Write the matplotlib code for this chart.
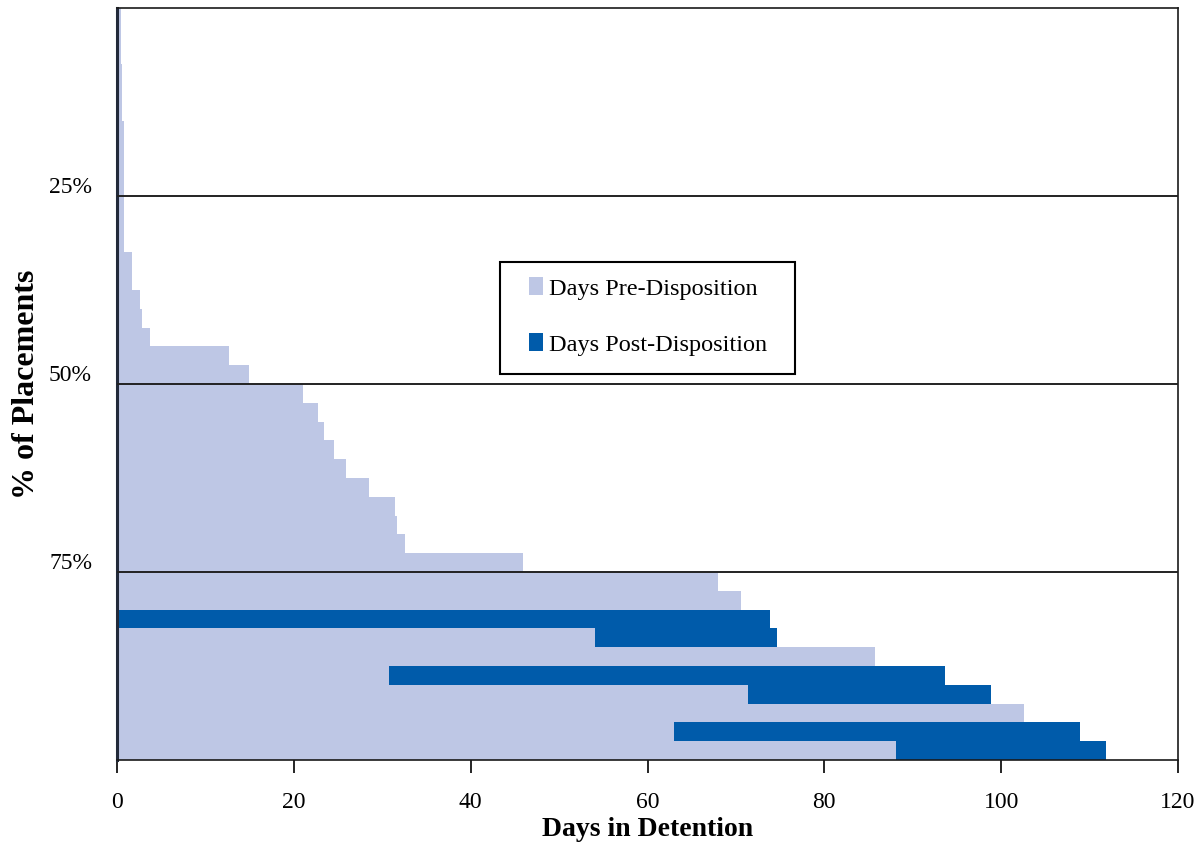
import matplotlib.pyplot as plt
import numpy as np
from matplotlib.patches import Patch, Rectangle
import matplotlib.transforms as mtransforms

# one bar per placement, sorted top to bottom (40 placements, 2.5% each)
days_pre = [0.45, 0.45, 0.45, 0.57, 0.57, 0.57, 0.75, 0.75, 0.75, 0.75,
            0.75, 0.75, 0.75, 1.7, 1.7, 2.6, 2.8, 3.7, 12.7, 14.9,
            21.0, 22.7, 23.4, 24.5, 25.9, 28.5, 31.4, 31.7, 32.6, 45.9,
            68.0, 70.6, 0.0, 54.1, 85.7, 30.8, 71.4, 102.6, 63.0, 88.1]
days_post = [0] * 32 + [73.9, 20.5, 0.0, 62.8, 27.5, 0.0, 45.9, 23.7]

pct_ticks = [25, 50, 75]
pct_labels = ['25%', '50%', '75%']
x_ticks = [0, 20, 40, 60, 80, 100, 120]

light = '#bec7e5'
dark = '#005baa'

plt.rcParams['font.family'] = ['Liberation Serif', 'DejaVu Serif']

pre = np.array(days_pre)
post = np.array(days_post)
n = len(pre)
step = 100.0 / n
y = np.arange(n) * step + step / 2

fig = plt.figure(figsize=(11.99, 8.5), dpi=100)
ax = fig.add_axes([0.0976, 0.1059, 0.8849, 0.8847])

ax.barh(y, pre, height=step, color=light, label='Days Pre-Disposition',
        linewidth=0)
ax.barh(y, post, left=pre, height=step, color=dark,
        label='Days Post-Disposition', linewidth=0)

ax.set_xlim(0, 120)
ax.set_ylim(100, 0)

for p in pct_ticks:
    ax.axhline(p, color='#222222', linewidth=1.4, zorder=3)

ax.set_yticks(pct_ticks)
ax.set_yticklabels(pct_labels, fontsize=17)
ax.tick_params(axis='y', length=0, pad=18)
shift = mtransforms.ScaledTranslation(0, 11 / 100, fig.dpi_scale_trans)
for lab in ax.get_yticklabels():
    lab.set_transform(lab.get_transform() + shift)

ax.set_xticks(x_ticks)
ax.tick_params(axis='x', direction='out', length=9, width=1.2,
               labelsize=17, pad=14)

ax.set_xlabel('Days in Detention', fontsize=20, fontweight='bold', labelpad=3)
ax.set_ylabel('% of Placements', fontsize=23, fontweight='bold', labelpad=6)

for s in ax.spines.values():
    s.set_color('#1a1a1a')
    s.set_linewidth(1.2)
ax.spines['left'].set_linewidth(2.2)
ax.spines['left'].set_color('#222a3a')

# legend box drawn separately so the padding can differ per direction
box = Rectangle((0.361, 0.513), 0.278, 0.149, transform=ax.transAxes,
                facecolor='white', edgecolor='black', linewidth=1.5,
                zorder=4)
ax.add_patch(box)

handles = [Patch(facecolor=light, label='Days Pre-Disposition'),
           Patch(facecolor=dark, label='Days Post-Disposition')]
leg = ax.legend(handles=handles, loc='center left',
                bbox_to_anchor=(0.388, 0.590), fontsize=17.5,
                frameon=False, borderpad=0, labelspacing=1.37,
                handlelength=0.58, handleheight=0.78,
                handletextpad=0.25, borderaxespad=0)
leg.set_zorder(5)

fig.savefig('out.png', dpi=100)
